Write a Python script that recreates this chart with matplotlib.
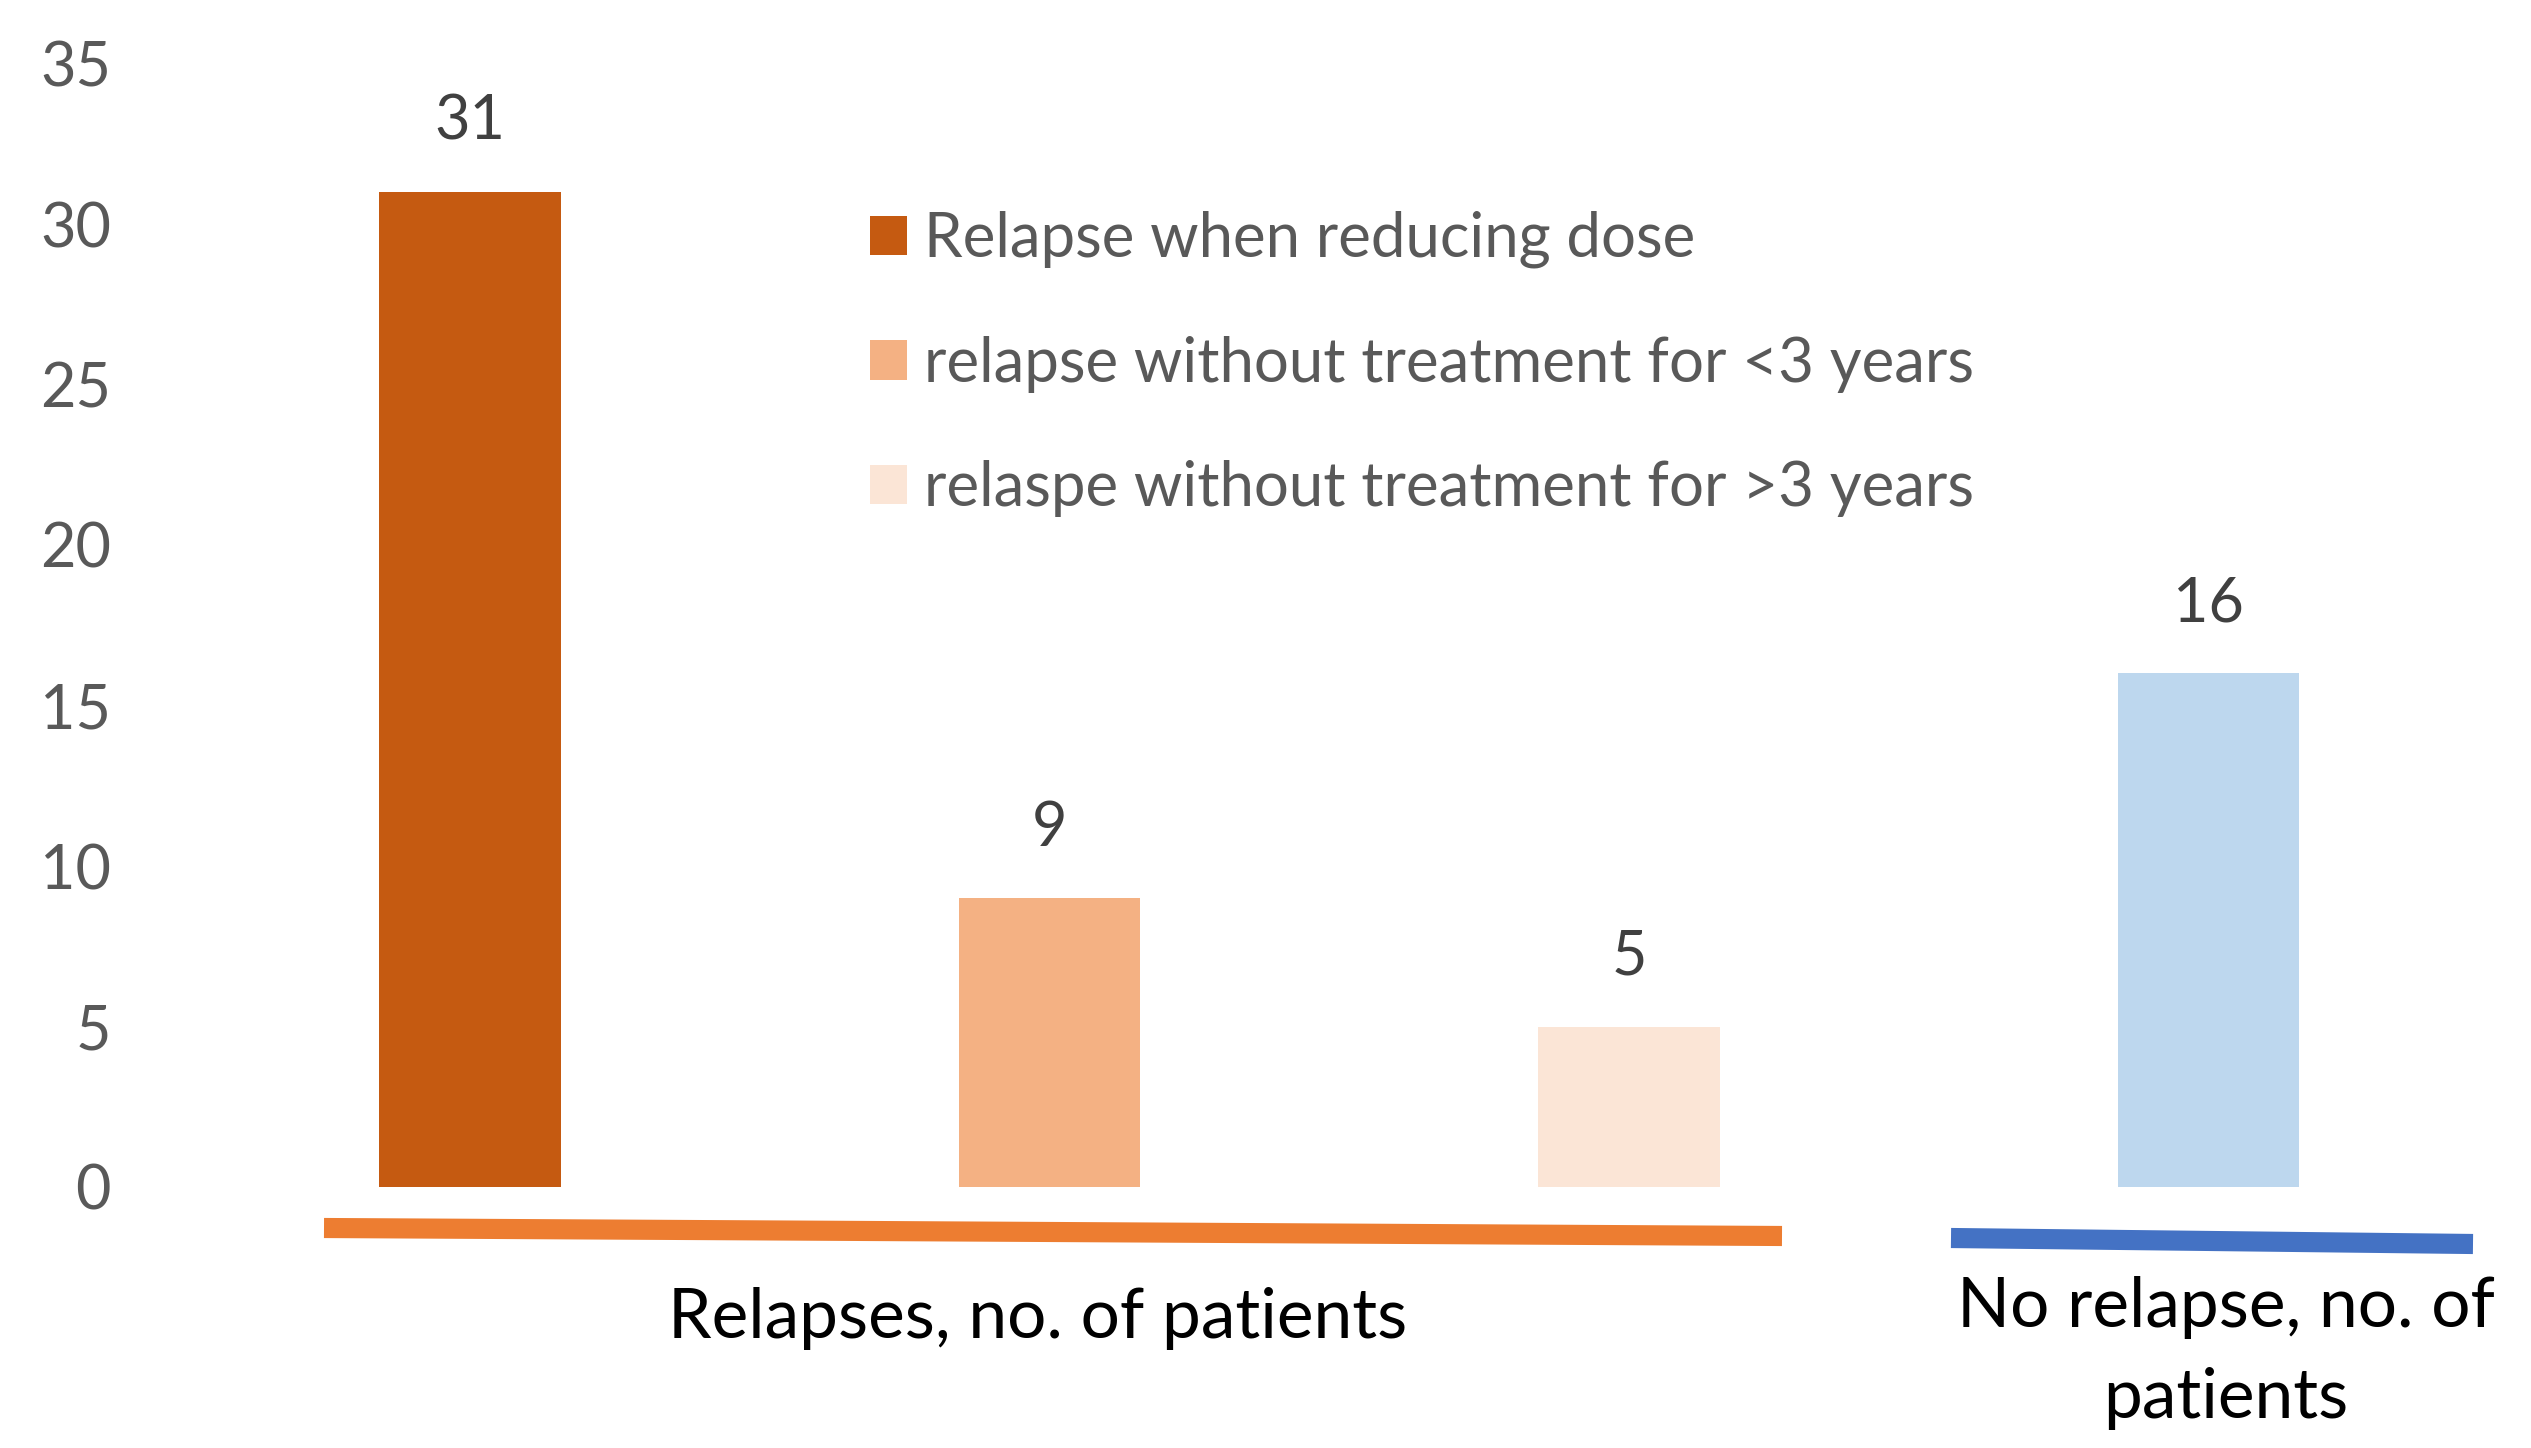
import matplotlib
matplotlib.use("Agg")
import matplotlib.pyplot as plt
import matplotlib.transforms as mtransforms
from matplotlib.lines import Line2D

# data
categories = ["Relapse when reducing dose",
              "relapse without treatment for <3 years",
              "relaspe without treatment for >3 years",
              "No relapse"]
values = [31, 9, 5, 16]
colors = ["#C55A11", "#F4B183", "#FBE5D6", "#BDD7EE"]
in_legend = [True, True, True, False]
group_labels = ["Relapses, no. of patients", "No relapse, no. of\npatients"]
yticks = [0, 5, 10, 15, 20, 25, 30, 35]

plt.rcParams["font.family"] = ["Lato", "DejaVu Sans"]

W, H = 2531, 1448
fig = plt.figure(figsize=(W / 100, H / 100), dpi=100)

# axes placed in pixel terms of the original picture
ax_left, ax_bottom_px, ax_top_px = 150, 1187, 63.5
ax = fig.add_axes([ax_left / W, (H - ax_bottom_px) / H,
                   1 - ax_left / W, (ax_bottom_px - ax_top_px) / H])

x = list(range(len(values)))
for xi, v, c, leg, lab in zip(x, values, colors, in_legend, categories):
    ax.bar(xi, v, width=0.314, color=c, label=lab if leg else "_nolegend_")
    ax.annotate(str(v), (xi, v), xytext=(0, 50), textcoords="offset points",
                ha="center", va="center", fontsize=44, color="#404040")

center0, spacing = 470, 579.5
ax.set_xlim(-(center0 - ax_left) / spacing, (W - center0) / spacing)
ax.set_ylim(0, 35)
ax.set_yticks(yticks)
ax.set_xticks([])
ax.tick_params(axis="y", length=0, pad=28, labelsize=44, labelcolor="#595959")
for s in ax.spines.values():
    s.set_visible(False)

leg = ax.legend(loc="upper left", bbox_to_anchor=(870 / W, 1 - 211 / H),
                bbox_transform=fig.transFigure, frameon=False, fontsize=44.5,
                handlelength=0.6, handleheight=0.6, handletextpad=0.28,
                labelspacing=1.09, borderpad=0, borderaxespad=0)
for t in leg.get_texts():
    t.set_color("#595959")

# group underline bars
fig.add_artist(Line2D([324 / W, 1782 / W], [1 - 1228 / H, 1 - 1236 / H],
                      transform=fig.transFigure, color="#ED7D31", lw=14.5,
                      solid_capstyle="butt"))
fig.add_artist(Line2D([1951 / W, 2473 / W], [1 - 1238 / H, 1 - 1244 / H],
                      transform=fig.transFigure, color="#4472C4", lw=14.5,
                      solid_capstyle="butt"))

# group labels
blend = mtransforms.blended_transform_factory(ax.transData, fig.transFigure)
ax.text(0.98, 1 - 1319 / H, group_labels[0], transform=blend, ha="center",
        va="center", fontsize=50, color="black")
ax.text(3.03, 1 - 1353 / H, group_labels[1], transform=blend, ha="center",
        va="center", fontsize=50, color="black", linespacing=1.55)

fig.savefig("out.png", dpi=100)
